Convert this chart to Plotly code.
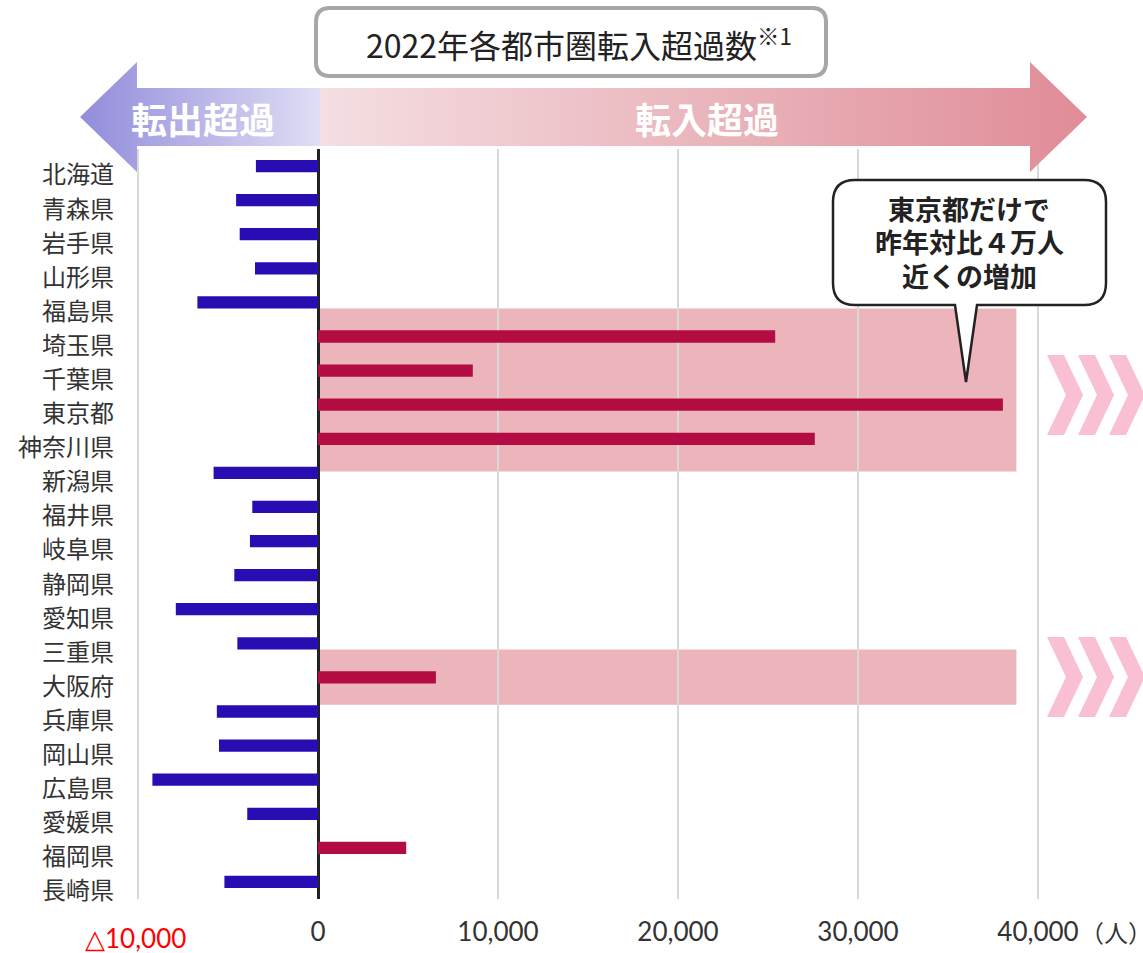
import plotly.graph_objects as go

# ---- data ----
prefectures = ["北海道", "青森県", "岩手県", "山形県", "福島県", "埼玉県", "千葉県", "東京都",
               "神奈川県", "新潟県", "福井県", "岐阜県", "静岡県", "愛知県", "三重県", "大阪府",
               "兵庫県", "岡山県", "広島県", "愛媛県", "福岡県", "長崎県"]
net_migration = [-3450, -4550, -4350, -3500, -6700, 25400, 8600, 38050,
                 27600, -5800, -3650, -3780, -4650, -7900, -4480, 6550,
                 -5620, -5500, -9200, -3930, 4900, -5200]
tick_values = [0, 10000, 20000, 30000, 40000]
tick_labels = ["0", "10,000", "20,000", "30,000", "40,000"]
negative_tick_value = -10000
negative_tick_label = "△10,000"
highlight_groups = [("埼玉県", "神奈川県"), ("大阪府", "大阪府")]
highlight_extent = 38800

W, H = 1143, 953
BLUE = "#2a0cb3"
RED = "#b30c43"

# pixel layout of plot area
PX_LEFT, PX_RIGHT, PX_TOP, PX_BOTTOM = 125, 1050, 149, 899
ZERO_PX, PX_PER = 318, 0.018
x_range = [(PX_LEFT - ZERO_PX) / PX_PER, (PX_RIGHT - ZERO_PX) / PX_PER]

colors = [RED if v > 0 else BLUE for v in net_migration]

fig = go.Figure()
fig.add_trace(go.Bar(
    x=net_migration, y=prefectures, orientation="h",
    marker=dict(color=colors, line=dict(width=0)),
    width=0.36, xaxis="x", yaxis="y", hoverinfo="x+y", showlegend=False,
))

# ---- decorative arrow (pixel overlay axes) ----
left_poly_x = [80, 137, 137, 320, 320, 137, 137, 80]
left_poly_y = [117, 62, 88, 88, 146, 146, 172, 117]
right_poly_x = [320, 1030, 1030, 1087, 1030, 1030, 320, 320]
right_poly_y = [88, 88, 62, 117, 172, 146, 146, 88]
fig.add_trace(go.Scatter(
    x=left_poly_x, y=left_poly_y, mode="lines", fill="toself",
    line=dict(width=0, color="rgba(0,0,0,0)"),
    fillgradient=dict(type="horizontal", colorscale=[[0, "#928cdb"], [1, "#dfdef5"]]),
    xaxis="x2", yaxis="y2", hoverinfo="skip", showlegend=False,
))
fig.add_trace(go.Scatter(
    x=right_poly_x, y=right_poly_y, mode="lines", fill="toself",
    line=dict(width=0, color="rgba(0,0,0,0)"),
    fillgradient=dict(type="horizontal", colorscale=[[0, "#f4dfe2"], [1, "#e08c97"]]),
    xaxis="x2", yaxis="y2", hoverinfo="skip", showlegend=False,
))

shapes = []
# gridline for the negative tick (label drawn separately in red)
shapes.append(dict(type="line", xref="x", yref="y domain", x0=negative_tick_value,
                   x1=negative_tick_value, y0=0, y1=1,
                   line=dict(color="#d9d9d9", width=2), layer="below"))
# highlight bands
for a, b in highlight_groups:
    ia, ib = prefectures.index(a), prefectures.index(b)
    top_off = 0.82
    bot_off = 0.96 if ia != ib else 0.80
    shapes.append(dict(type="rect", xref="x", yref="y", x0=0, x1=highlight_extent,
                       y0=ia - top_off, y1=ib + bot_off, fillcolor="#ecb5bb",
                       line=dict(width=0), layer="below"))


def rounded_rect(x0, y0, x1, y1, r, tail=None):
    p = f"M {x0+r},{y0} L {x1-r},{y0} Q {x1},{y0} {x1},{y0+r} L {x1},{y1-r} Q {x1},{y1} {x1-r},{y1} "
    if tail:
        (bx1, tx, ty, bx0) = tail
        p += f"L {bx1},{y1} L {tx},{ty} L {bx0},{y1} "
    p += f"L {x0+r},{y1} Q {x0},{y1} {x0},{y1-r} L {x0},{y0+r} Q {x0},{y0} {x0+r},{y0} Z"
    return p


# title box
shapes.append(dict(type="path", xref="x2", yref="y2",
                   path=rounded_rect(316, 8, 826, 76, 14),
                   fillcolor="white", line=dict(color="#a8a6a6", width=4), layer="above"))
# callout bubble
shapes.append(dict(type="path", xref="x2", yref="y2",
                   path=rounded_rect(833, 180, 1106, 305, 22, tail=(977, 966, 382, 955)),
                   fillcolor="white", line=dict(color="#222222", width=2.5), layer="above"))
# chevrons
for (top, bot) in [(355, 435), (637, 717)]:
    mid = (top + bot) / 2
    for x0 in [1047, 1078, 1109]:
        path = (f"M {x0},{top} L {x0+17},{top} L {x0+36},{mid} L {x0+17},{bot} "
                f"L {x0},{bot} L {x0+19},{mid} Z")
        shapes.append(dict(type="path", xref="x2", yref="y2", path=path,
                           fillcolor="#f9c0d3", line=dict(width=0), layer="above"))

bubble_lines = ["東京都だけで", "昨年対比４万人", "近くの増加"]
annotations = [
    dict(x=579, y=43, xref="x2", yref="y2",
         text="2022年各都市圏転入超過数<sup>※1</sup>",
         showarrow=False, font=dict(family="Noto Sans CJK JP", size=32, color="#222222")),
    dict(x=203, y=118, xref="x2", yref="y2", text="<b>転出超過</b>", showarrow=False,
         font=dict(family="Noto Sans CJK JP", size=36, color="white")),
    dict(x=707, y=118, xref="x2", yref="y2", text="<b>転入超過</b>", showarrow=False,
         font=dict(family="Noto Sans CJK JP", size=36, color="white")),
    dict(x=135, y=938, xref="x2", yref="y2", text=negative_tick_label, showarrow=False,
         font=dict(family="Lato", size=26, color="#ff0000")),
    dict(x=1116, y=931, xref="x2", yref="y2", text="（人）", showarrow=False,
         font=dict(family="Noto Sans CJK JP", size=24, color="#333333")),
]
for i, line in enumerate(bubble_lines):
    annotations.append(dict(x=969, y=208 + 33.5 * i, xref="x2", yref="y2",
                            text=f"<b>{line}</b>", showarrow=False,
                            font=dict(family="Noto Sans CJK JP", size=27, color="#222222")))

fig.update_layout(
    width=W, height=H, margin=dict(l=0, r=0, t=0, b=0, autoexpand=False),
    autosize=False,
    paper_bgcolor="white", plot_bgcolor="rgba(0,0,0,0)",
    showlegend=False,
    xaxis=dict(domain=[PX_LEFT / W, PX_RIGHT / W], range=x_range,
               tickvals=tick_values, ticktext=tick_labels, automargin=False,
               showgrid=True, gridcolor="#d9d9d9", gridwidth=2,
               zeroline=True, zerolinecolor="#222222", zerolinewidth=2.5,
               showline=False, ticks="", ticklabelstandoff=15,
               tickfont=dict(family="Lato", size=26, color="#333333"), fixedrange=True),
    yaxis=dict(domain=[1 - PX_BOTTOM / H, 1 - PX_TOP / H], type="category",
               categoryorder="array", categoryarray=prefectures, automargin=False,
               range=[len(prefectures) - 0.5, -0.5],
               showgrid=False, zeroline=False, showline=False, ticks="",
               ticklabelstandoff=10, ticklabelshift=-9,
               tickfont=dict(family="Noto Sans CJK JP", size=24, color="#333333"),
               fixedrange=True),
    xaxis2=dict(domain=[0, 1], range=[0, W], visible=False, anchor="y2",
                automargin=False, fixedrange=True),
    yaxis2=dict(domain=[0, 1], range=[H, 0], visible=False, anchor="x2",
                automargin=False, fixedrange=True),
    shapes=shapes, annotations=annotations,
)

fig.write_html("out.html")
